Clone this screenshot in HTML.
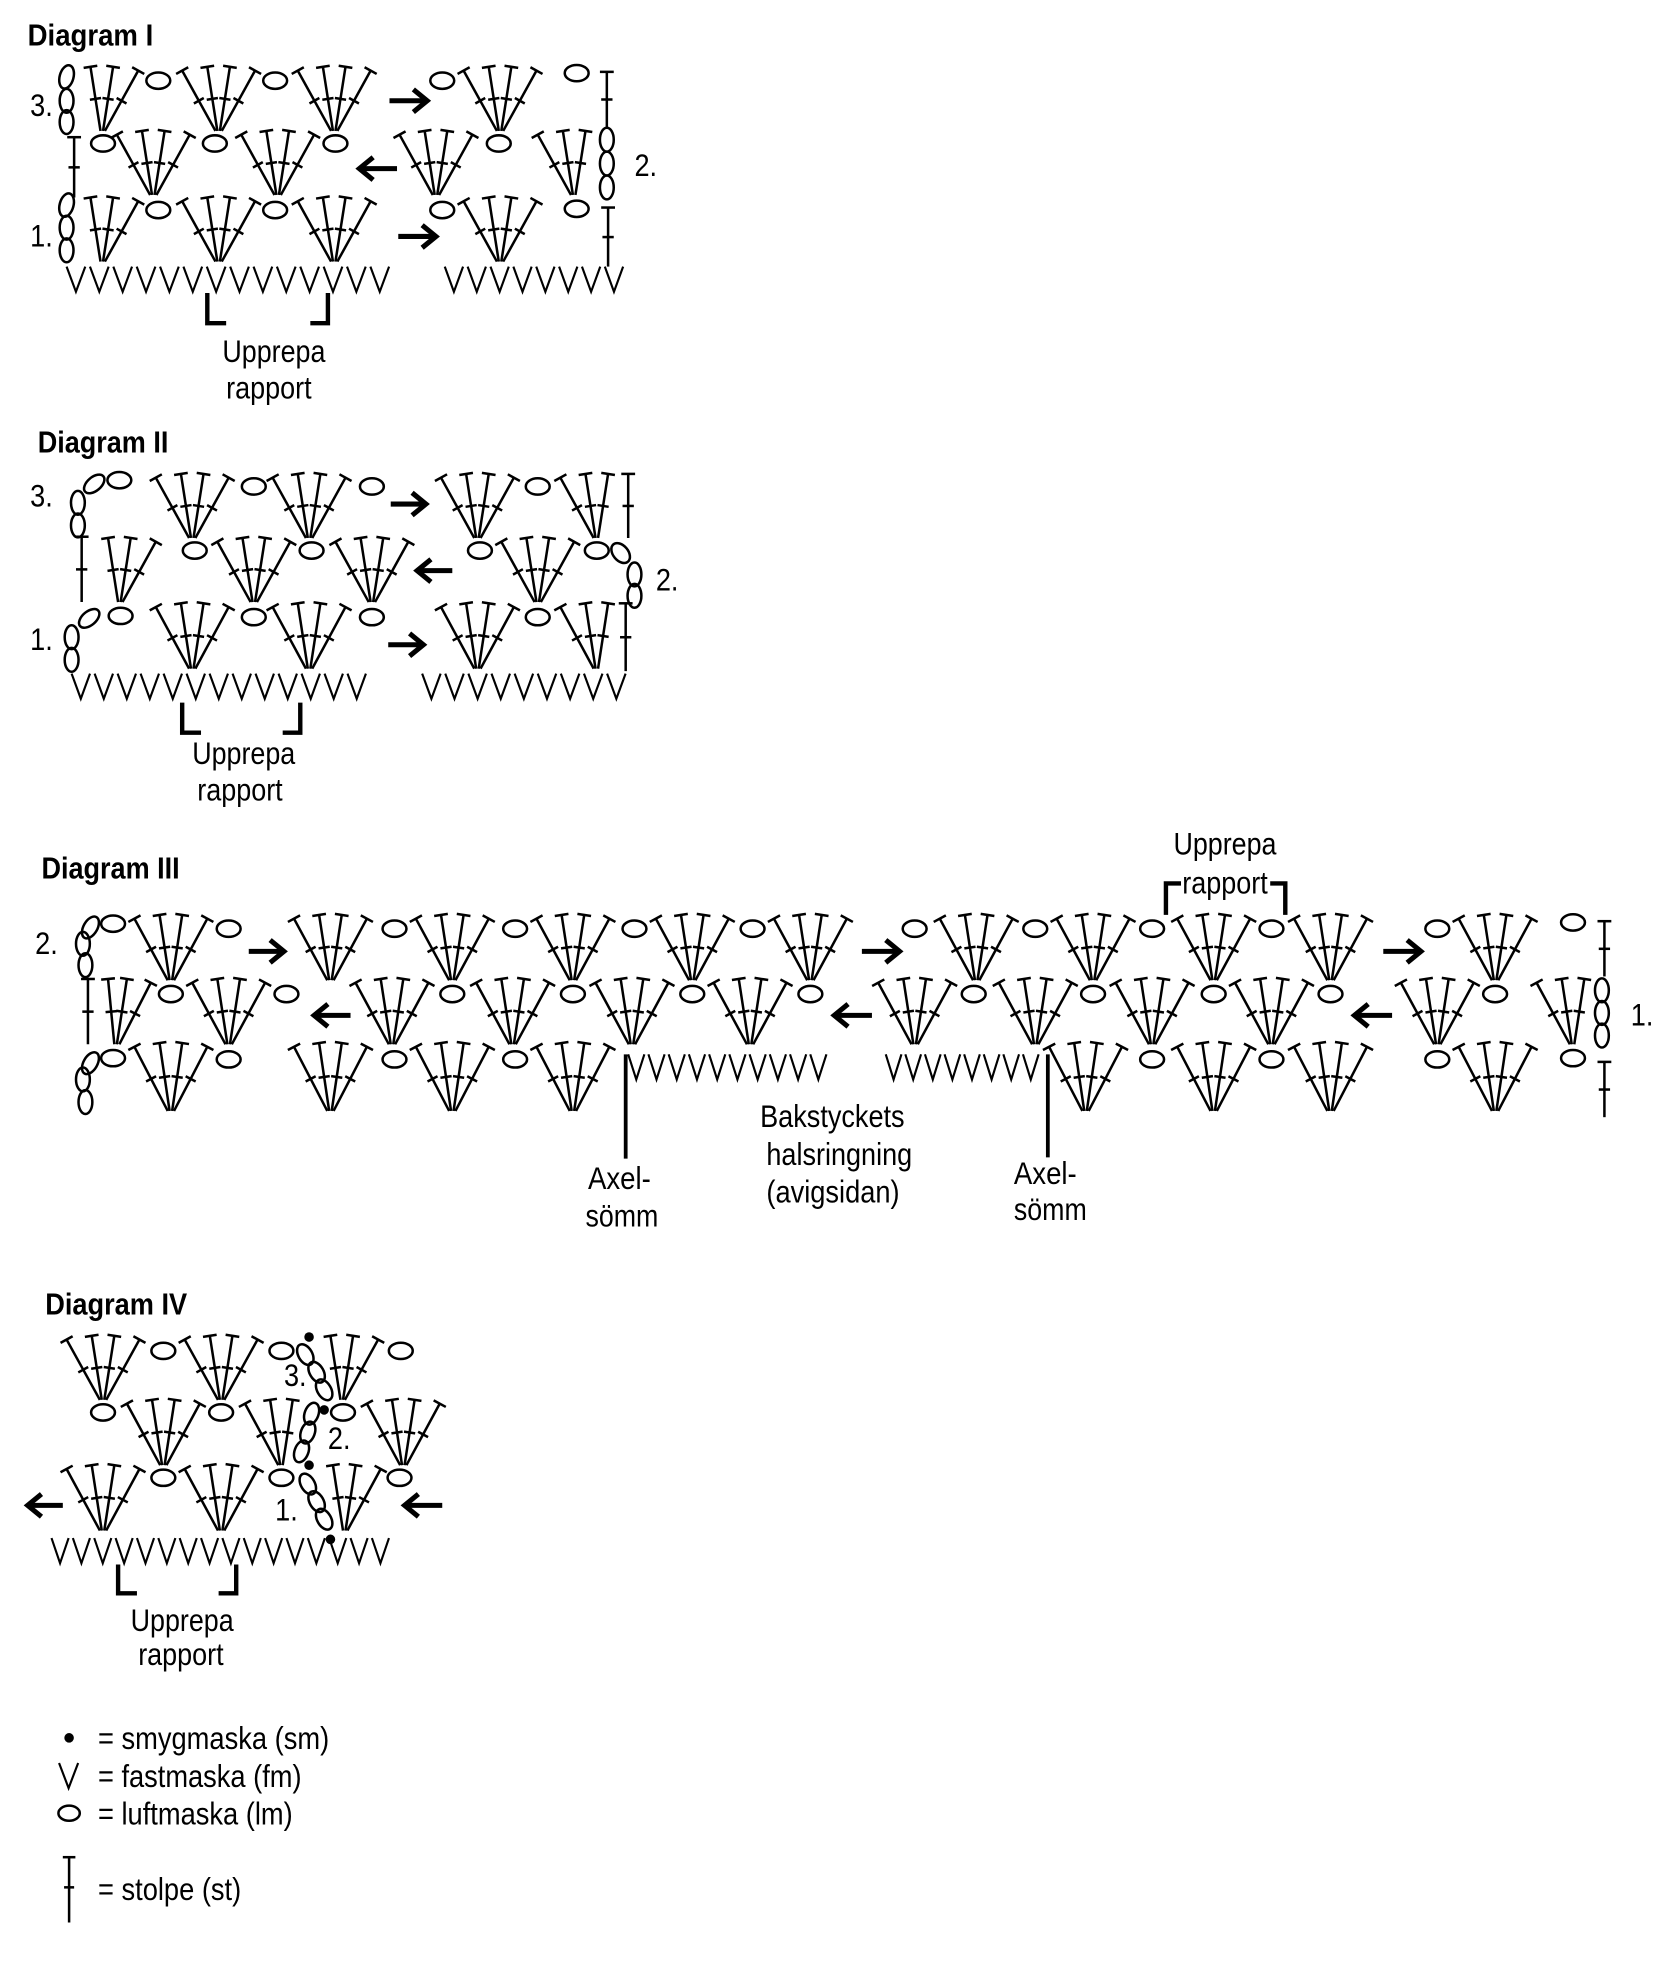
<!DOCTYPE html>
<html><head><meta charset="utf-8"><style>
html,body{margin:0;padding:0;background:#fff}
svg{display:block}
text{font-family:"Liberation Sans",sans-serif;fill:#000}
.t{font-size:24px;font-weight:bold}
.n{font-size:25px}
</style></head><body>
<svg id="s" xmlns="http://www.w3.org/2000/svg" width="1671" height="1968" viewBox="0 0 1330 1566">
<rect width="1330" height="1566" fill="#fff"/>
<text class="t" x="22" y="36" textLength="100" lengthAdjust="spacingAndGlyphs">Diagram I</text>
<text class="t" x="30" y="360" textLength="104" lengthAdjust="spacingAndGlyphs">Diagram II</text>
<text class="t" x="33" y="699" textLength="110" lengthAdjust="spacingAndGlyphs">Diagram III</text>
<text class="t" x="36" y="1046" textLength="113" lengthAdjust="spacingAndGlyphs">Diagram IV</text>

<text class="n" x="24" y="92" textLength="18" lengthAdjust="spacingAndGlyphs">3.</text>
<text class="n" x="24" y="196" textLength="18" lengthAdjust="spacingAndGlyphs">1.</text>
<text class="n" x="505" y="140" textLength="18" lengthAdjust="spacingAndGlyphs">2.</text>
<text class="n" x="177" y="288" textLength="82" lengthAdjust="spacingAndGlyphs">Upprepa</text>
<text class="n" x="180" y="317" textLength="68" lengthAdjust="spacingAndGlyphs">rapport</text>

<text class="n" x="24" y="403" textLength="18" lengthAdjust="spacingAndGlyphs">3.</text>
<text class="n" x="24" y="517" textLength="18" lengthAdjust="spacingAndGlyphs">1.</text>
<text class="n" x="522" y="470" textLength="18" lengthAdjust="spacingAndGlyphs">2.</text>
<text class="n" x="153" y="608" textLength="82" lengthAdjust="spacingAndGlyphs">Upprepa</text>
<text class="n" x="157" y="637" textLength="68" lengthAdjust="spacingAndGlyphs">rapport</text>

<text class="n" x="28" y="759" textLength="18" lengthAdjust="spacingAndGlyphs">2.</text>
<text class="n" x="1298" y="816" textLength="18" lengthAdjust="spacingAndGlyphs">1.</text>
<text class="n" x="934" y="680" textLength="82" lengthAdjust="spacingAndGlyphs">Upprepa</text>
<text class="n" x="941" y="711" textLength="68" lengthAdjust="spacingAndGlyphs">rapport</text>
<text class="n" x="468" y="946" textLength="50" lengthAdjust="spacingAndGlyphs">Axel-</text>
<text class="n" x="466" y="976" textLength="58" lengthAdjust="spacingAndGlyphs">sömm</text>
<text class="n" x="807" y="942" textLength="50" lengthAdjust="spacingAndGlyphs">Axel-</text>
<text class="n" x="807" y="971" textLength="58" lengthAdjust="spacingAndGlyphs">sömm</text>
<text class="n" x="605" y="897" textLength="115" lengthAdjust="spacingAndGlyphs">Bakstyckets</text>
<text class="n" x="610" y="927" textLength="116" lengthAdjust="spacingAndGlyphs">halsringning</text>
<text class="n" x="610" y="957" textLength="106" lengthAdjust="spacingAndGlyphs">(avigsidan)</text>

<text class="n" x="226" y="1103" textLength="18" lengthAdjust="spacingAndGlyphs">3.</text>
<text class="n" x="261" y="1153" textLength="18" lengthAdjust="spacingAndGlyphs">2.</text>
<text class="n" x="219" y="1210" textLength="18" lengthAdjust="spacingAndGlyphs">1.</text>
<text class="n" x="104" y="1298" textLength="82" lengthAdjust="spacingAndGlyphs">Upprepa</text>
<text class="n" x="110" y="1325" textLength="68" lengthAdjust="spacingAndGlyphs">rapport</text>

<text class="n" x="78" y="1392" textLength="184" lengthAdjust="spacingAndGlyphs">= smygmaska (sm)</text>
<text class="n" x="78" y="1422" textLength="162" lengthAdjust="spacingAndGlyphs">= fastmaska (fm)</text>
<text class="n" x="78" y="1452" textLength="155" lengthAdjust="spacingAndGlyphs">= luftmaska (lm)</text>
<text class="n" x="78" y="1512" textLength="114" lengthAdjust="spacingAndGlyphs">= stolpe (st)</text>
<g id="g" stroke="#000" fill="none" stroke-width="2"></g>
</svg>
<script>
var o='';
function L(a,b,c,d,w){o+='<line x1="'+a+'" y1="'+b+'" x2="'+c+'" y2="'+d+'"'+(w?' stroke-width="'+w+'"':'')+'/>';}
function st(bx,by,tx,ty){L(bx,by,tx,ty);var dx=tx-bx,dy=ty-by,l=Math.sqrt(dx*dx+dy*dy),ux=dx/l,uy=dy/l,px=-uy,py=ux;
L(tx-px*5.5,ty-py*5.5,tx+px*5.5,ty+py*5.5);var mx=bx+dx*0.5,my=by+dy*0.5;L(mx-px*4.5,my-py*4.5,mx+px*4.5,my+py*4.5);}
function fan(bx,base,top,om){om=om||[];var t=[-29,-9,9,29],b=[-2.5,-1,1,2.5];for(var i=0;i<4;i++){if(om.indexOf(i)<0)st(bx+b[i],base,bx+t[i],top+(i==0||i==3?3:0));}}
function ov(x,y,rx,ry,r){rx=rx||9.5;ry=ry||6.5;o+='<ellipse cx="'+x+'" cy="'+y+'" rx="'+rx+'" ry="'+ry+'"'+(r?' transform="rotate('+r+' '+x+' '+y+')"':'')+'/>';}
function cv(x,y,r){ov(x,y,5.5,9.5,r||0);}
function Vs(x0,y,n,sp){var w=sp*0.8;for(var i=0;i<n;i++){var x=x0+i*sp;o+='<polyline points="'+x+','+y+' '+(x+w/2)+','+(y+20)+' '+(x+w)+','+y+'" stroke-width="1.7"/>';}}
function aR(a,b,y){L(a,y,b-2,y,4);o+='<polyline points="'+(b-11)+','+(y-9)+' '+b+','+y+' '+(b-11)+','+(y+9)+'" stroke-width="4"/>';}
function aL(a,b,y){L(a+2,y,b,y,4);o+='<polyline points="'+(a+11)+','+(y-9)+' '+a+','+y+' '+(a+11)+','+(y+9)+'" stroke-width="4"/>';}
function dot(x,y){o+='<circle cx="'+x+'" cy="'+y+'" r="3.8" fill="#000" stroke="none"/>';}
function br(x1,x2,y1,y2){o+='<path d="M'+x1+' '+y1+'V'+y2+'H'+(x1+15)+'M'+x2+' '+y1+'V'+y2+'H'+(x2-14)+'" stroke-width="3.5"/>';}
/* Diagram I */
var T=53,B=104,Y=64;
cv(53,61,15);cv(53,80);cv(53,97);
fan(81,B,T,[0]);ov(126,Y);fan(174,B,T);ov(219,Y);fan(266,B,T);aR(310,340,80);ov(352,Y);fan(398,B,T);ov(459,58);st(483,101,483,57);
T=104;B=155;Y=114;
st(59,157,59,109);ov(82,Y);fan(122,B,T);ov(171,Y);fan(221,B,T);ov(267,Y);aL(286,316,134);fan(347,B,T);ov(397,Y);fan(457,B,T,[3]);cv(483,111);cv(483,130);cv(483,149);
T=157;B=208;Y=167;
cv(53,163,15);cv(53,181);cv(53,199);
fan(81,B,T,[0]);ov(126,Y);fan(174,B,T);ov(219,Y);fan(266,B,T);aR(317,347,188);ov(352,Y);fan(398,B,T);ov(459,166);st(484,212,484,165);
Vs(53,212,14,18.6);Vs(354,212,8,18.2);
br(165,261,233,257);
/* Diagram II */
T=377;B=428;Y=387;
cv(62,418);cv(62,400);ov(75,385,5.5,9.5,50);ov(95,382);
fan(153,B,T);ov(202,Y);fan(246,B,T);ov(296,Y);aR(311,339,401);fan(380,B,T);ov(428,Y);fan(475,B,T,[3]);st(500,428,500,377);
T=428;B=479;Y=438;
st(65,479,65,427);fan(95,B,T,[0]);ov(155,Y);fan(202,B,T);ov(248,Y);fan(296,B,T);aL(332,360,454);ov(382,Y);fan(428,B,T);ov(475,Y);ov(494,440,6,9,-40);cv(505,457);cv(505,474);
T=480;B=532;Y=491;
cv(57,525);cv(57,507);ov(71,492,5.5,9.5,50);ov(96,490);
fan(153,B,T);ov(202,Y);fan(246,B,T);ov(296,Y);aR(309,337,513);fan(380,B,T);ov(428,Y);fan(475,B,T,[3]);st(498,534,498,480);
Vs(57,536,13,18.3);Vs(336,536,9,18.4);
br(145,239,559,583);
/* Diagram III */
T=728;B=780;Y=739;
cv(68,768);cv(66,751);ov(72,738,5.5,9.5,30);ov(90,735);
fan(136,B,T);ov(182,Y);aR(198,226,757);
[263,360,456,551,645].forEach(function(x){fan(x,B,T);});[314,410,505,599].forEach(function(x){ov(x,Y);});
aR(686,716,757);[777,870,966,1059,1190].forEach(function(x){fan(x,B,T);});[728,824,917,1012,1144].forEach(function(x){ov(x,Y);});
aR(1101,1131,757);ov(1252,734);st(1277,777,1277,733);
T=779;B=831;Y=791;
st(70,831,70,779);st(91,831,86,779);st(93,831,101,779);st(95,831,120,782);
ov(136,Y);fan(182,B,T);ov(228,Y);aL(250,279,808);
[312,408,503,597,728,824,917,1012,1144].forEach(function(x){fan(x,B,T);});[360,456,551,645,775,870,966,1059,1190].forEach(function(x){ov(x,Y);});
aL(664,694,808);aL(1078,1108,808);fan(1252,B,T,[3]);cv(1275,788);cv(1275,806);cv(1275,824);
T=830;B=884;Y=843;
ov(72,846,5.5,9.5,30);cv(66,859);cv(68,877);ov(90,842);
fan(136,B,T);ov(182,Y);fan(263,B,T);ov(314,Y);fan(360,B,T);ov(410,Y);fan(456,B,T);
L(498,839,498,922,3);Vs(500,839,10,16.1);Vs(705,839,8,15.6);L(834,839,834,921,3);
fan(864,B,T);ov(917,Y);fan(966,B,T);ov(1012,Y);fan(1059,B,T);ov(1144,Y);fan(1190,B,T);ov(1252,842);st(1277,889,1277,845);
o+='<path d="M928 728V703H940M1023 728V703H1011" stroke-width="3.5"/>';
/* Diagram IV */
T=1063;B=1114;Y=1075;
fan(82,B,T);ov(130,Y);fan(176,B,T);ov(224,Y);dot(246,1064);ov(243,1078,5.5,9,-30);ov(252,1092,5.5,9,-30);ov(258,1106,5.5,9,-30);fan(272,B,T,[0]);ov(319,Y);
T=1114;B=1166;Y=1124;
ov(82,Y);fan(130,B,T);ov(176,Y);fan(224,B,T,[3]);ov(248,1125,5.5,9,20);ov(245,1140,5.5,9,20);ov(240,1155,5.5,9,20);dot(258,1122);ov(273,Y);fan(321,B,T);
T=1166;B=1218;Y=1176;
fan(82,B,T);ov(130,Y);fan(176,B,T);ov(224,Y);dot(246,1166);ov(245,1181,5.5,9,-30);ov(252,1195,5.5,9,-30);ov(258,1209,5.5,9,-30);fan(274,B,T,[0]);ov(318,Y);dot(263,1225);
aL(22,50,1198);aL(322,352,1198);
Vs(41,1224,16,17);
br(94,188,1245,1268);
/* Legend */
dot(55,1383);Vs(47,1403,1,19);ov(55,1443,8.5,6);
L(55,1478,55,1530);L(50,1478,60,1478);L(51,1502,59,1502);
document.getElementById('g').innerHTML=o;
</script>
</body></html>
